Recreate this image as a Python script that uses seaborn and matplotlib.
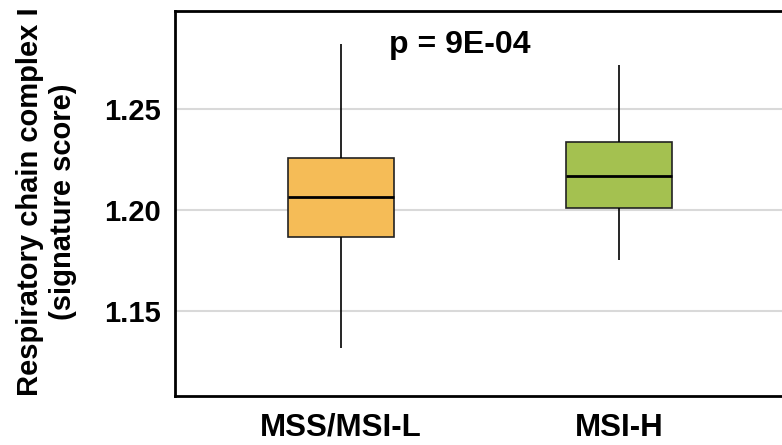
import numpy as np
import pandas as pd
import matplotlib
matplotlib.use("Agg")
import matplotlib.pyplot as plt
import seaborn as sns

# Groups and five-number summaries (min, Q1, median, Q3, max)
groups = ["MSS/MSI-L", "MSI-H"]
mss_values = [1.1317, 1.1866, 1.2064, 1.2257, 1.2822]
msi_values = [1.1752, 1.2010, 1.2168, 1.2337, 1.2718]
box_colors = ["#F5BC57", "#A4C150"]
y_ticks = [1.15, 1.20, 1.25]
p_label = "p = 9E-04"

df = pd.DataFrame({
    "group": [groups[0]] * len(mss_values) + [groups[1]] * len(msi_values),
    "score": mss_values + msi_values,
})

sns.set_style("white")
plt.rcParams["font.family"] = ["Liberation Sans", "DejaVu Sans"]
plt.rcParams["font.weight"] = "bold"
plt.rcParams["text.color"] = "black"
plt.rcParams["axes.labelcolor"] = "black"
plt.rcParams["xtick.color"] = "black"
plt.rcParams["ytick.color"] = "black"

fig = plt.figure(figsize=(7.82, 4.45), dpi=100)
ax = fig.add_axes([175 / 782, 49 / 445, 615 / 782, 385 / 445])

sns.boxplot(data=df, x="group", y="score", hue="group", palette=box_colors,
            width=0.38, whis=np.inf, showcaps=False, legend=False, ax=ax,
            linecolor="black", linewidth=1.2,
            boxprops=dict(edgecolor="#222222", linewidth=1.2),
            medianprops=dict(color="black", linewidth=2),
            whiskerprops=dict(color="black", linewidth=1.2),
            saturation=1)

ax.set_xlim(-0.597, 1.615)
ax.set_ylim(1.108, 1.2985)
ax.set_yticks(y_ticks)
ax.set_yticklabels([f"{t:.2f}" for t in y_ticks])
ax.yaxis.grid(True, color="#d9d9d9", linewidth=1.5)
ax.xaxis.grid(False)
ax.set_axisbelow(True)
ax.tick_params(axis="y", length=0, labelsize=21, pad=10)
ax.tick_params(axis="x", length=0, labelsize=22.5, pad=12)
for lab in ax.get_xticklabels() + ax.get_yticklabels():
    lab.set_fontweight("bold")

for side in ["left", "right", "top", "bottom"]:
    ax.spines[side].set_color("black")
    ax.spines[side].set_linewidth(2)

ax.set_xlabel("")
ax.set_ylabel("Respiratory chain complex I\n(signature score)", fontsize=21,
              fontweight="bold", linespacing=1.2)
ax.yaxis.set_label_coords(-0.16, 0.505)

ax.text(0.428, 1.2817, p_label, ha="center", va="center", fontsize=23,
        fontweight="bold")

fig.savefig("out.png", dpi=100)
